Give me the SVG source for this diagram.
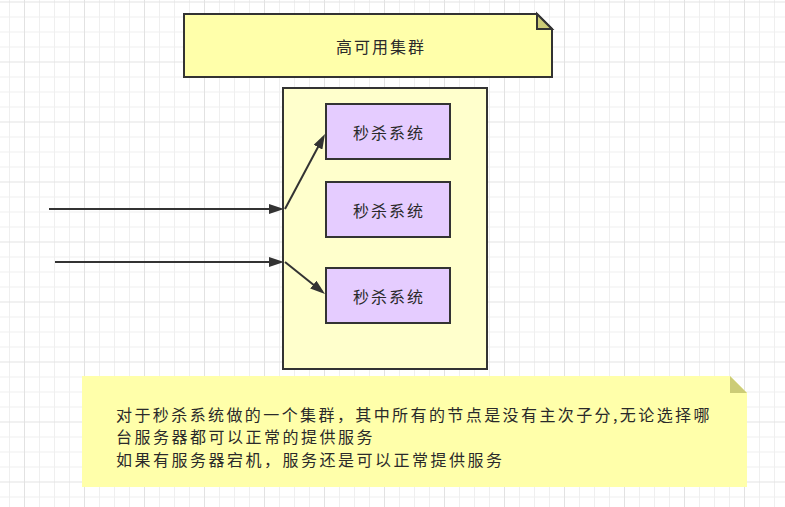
<svg xmlns="http://www.w3.org/2000/svg" width="785" height="507" viewBox="0 0 785 507">
  <defs>
    <pattern id="grid" x="24" y="1.5" width="60" height="60" patternUnits="userSpaceOnUse">
      <path d="M15.5,0V60M30.5,0V60M45.5,0V60M0,15.5H60M0,30.5H60M0,45.5H60" stroke="#efefef" stroke-width="1" fill="none"/>
      <path d="M0.5,0V60M0,0.5H60" stroke="#e2e2e2" stroke-width="1" fill="none"/>
    </pattern>
    <marker id="arr" markerWidth="15" markerHeight="10" refX="11" refY="5" orient="auto" markerUnits="userSpaceOnUse">
      <path d="M0,0 L15,5 L0,10 z" fill="#333333"/>
    </marker>
    <style>
      .txt { font-family: "Noto Sans CJK SC", "Noto Sans", sans-serif; font-size: 16px; fill: #2a2a2a; letter-spacing: 2px; }
      .desc { letter-spacing: 2.5px; }
      .mid { text-anchor: middle; dominant-baseline: central; }
      .note { fill: #ffffaa; }
      .fold { fill: #cccc77; }
      .frame { stroke: #333333; stroke-width: 2; }
      .box { fill: #e5ccff; stroke: #333333; stroke-width: 2; }
      .edge { fill: none; stroke: #333333; stroke-width: 2; marker-end: url(#arr); }
    </style>
  </defs>
  <rect x="0" y="0" width="785" height="507" fill="#ffffff"/>
  <rect x="0" y="0" width="785" height="507" fill="url(#grid)"/>

  <g id="note-title">
    <path class="note frame" d="M184,14 H537 L552,29 V77 H184 Z"/>
    <path class="fold frame" d="M537,14 V29 H552 Z"/>
    <text class="txt mid" x="381" y="45.5">高可用集群</text>
  </g>

  <g id="cluster">
    <rect x="283" y="88" width="204" height="281" fill="#ffffcc" class="frame"/>
  </g>

  <g id="node1">
    <rect class="box" x="326" y="104" width="124" height="55"/>
    <text class="txt mid" x="389" y="131.5">秒杀系统</text>
  </g>
  <g id="node2">
    <rect class="box" x="326" y="182" width="124" height="55"/>
    <text class="txt mid" x="389" y="209.5">秒杀系统</text>
  </g>
  <g id="node3">
    <rect class="box" x="326" y="268" width="124" height="55"/>
    <text class="txt mid" x="389" y="295.5">秒杀系统</text>
  </g>

  <g id="connectors">
    <path class="edge" d="M49,209 H280"/>
    <path class="edge" d="M55,262 H280"/>
    <path class="edge" d="M285,209 L323.1,137.5"/>
    <path class="edge" d="M285,262 L321.9,291.5"/>
  </g>

  <g id="note-desc">
    <path class="note" d="M82,376 H730 L747,393 V487 H82 Z"/>
    <path class="fold" d="M730,376 V393 H747 Z"/>
    <text class="txt desc" x="116" y="420.5" textLength="596">对于秒杀系统做的一个集群，其中所有的节点是没有主次子分,无论选择哪</text>
    <text class="txt desc" x="116" y="443">台服务器都可以正常的提供服务</text>
    <text class="txt desc" x="116" y="466">如果有服务器宕机，服务还是可以正常提供服务</text>
  </g>
</svg>
